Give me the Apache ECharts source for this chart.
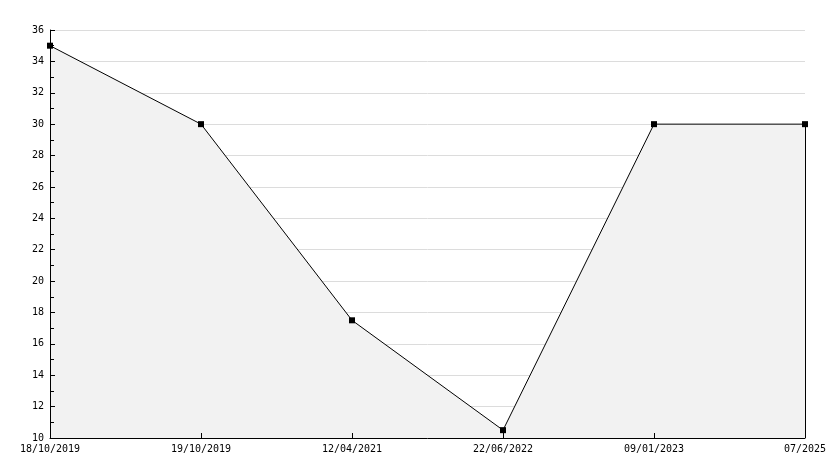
<!DOCTYPE html>
<html><head><meta charset="utf-8">
<script src="https://cdn.jsdelivr.net/npm/echarts@6/dist/echarts.min.js"></script>
<style>html,body{margin:0;padding:0;background:#fff}#c{width:834px;height:468px}</style>
</head><body><div id="c"></div>
<script>
const categories = ['18/10/2019','19/10/2019','12/04/2021','22/06/2022','09/01/2023','07/2025'];
const values = [35, 30, 17.5, 10.5, 30, 30];
const yMin = 10, yMax = 36, yStep = 2;

const font = {fontFamily: 'DejaVu Sans Mono', fontSize: 10, color: '#000'};
const chart = echarts.init(document.getElementById('c'), null, {renderer: 'canvas'});
const last = categories[categories.length - 1];
chart.setOption({
  animation: false,
  grid: {left: 50, right: 29, top: 30, bottom: 30},
  xAxis: {
    type: 'category', data: categories, boundaryGap: false, z: 10,
    axisLine: {lineStyle: {color: '#000', width: 1}},
    axisTick: {show: true, inside: true, length: 5, lineStyle: {color: '#000'}},
    axisLabel: Object.assign({margin: 6, interval: 0}, font),
    splitLine: {show: false}
  },
  yAxis: [{
    type: 'value', min: yMin, max: yMax, interval: yStep,
    axisLine: {show: false}, axisTick: {show: false}, axisLabel: {show: false},
    splitLine: {show: true, lineStyle: {color: '#dcdcdc', width: 1}}
  }, {
    type: 'value', min: yMin, max: yMax, interval: yStep, position: 'left', z: 10,
    axisLine: {show: true, lineStyle: {color: '#000', width: 1}},
    axisTick: {show: true, inside: true, length: 5, lineStyle: {color: '#000'}},
    minorTick: {show: true, splitNumber: 2, length: 4, lineStyle: {color: '#000'}},
    axisLabel: Object.assign({margin: 6}, font),
    splitLine: {show: false}
  }],
  series: [{
    type: 'line', data: values, yAxisIndex: 0,
    symbol: 'rect', symbolSize: 6,
    itemStyle: {color: '#000'},
    lineStyle: {color: '#000', width: 1},
    areaStyle: {color: '#f2f2f2', opacity: 1, origin: 'start'},
    markLine: {
      silent: true, symbol: 'none', label: {show: false},
      lineStyle: {color: '#000', width: 1, type: 'solid'},
      data: [[{coord: [last, yMin]}, {coord: [last, values[values.length - 1]]}]]
    }
  }]
});
</script></body></html>
